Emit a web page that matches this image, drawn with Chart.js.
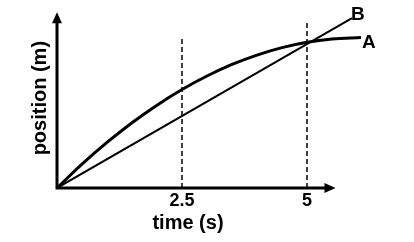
<!DOCTYPE html>
<html>
<head>
<meta charset="utf-8">
<script src="https://cdn.jsdelivr.net/npm/chart.js@4"></script>
<style>
  html, body { margin: 0; padding: 0; background: #fff; }
  #wrap { width: 414px; height: 242px; }
</style>
</head>
<body>
<div id="wrap"><canvas id="chart" width="414" height="242"></canvas></div>
<script>
// curve A (decelerating), time in s, position in m
const timeA = [0, 0.5, 1, 1.5, 2, 2.5, 3, 3.5, 4, 4.5, 5, 5.5, 6.08];
const posA = [0, 1.63, 3.11, 4.46, 5.66, 6.73, 7.65, 8.44, 9.08, 9.59, 9.96, 10.18, 10.28];
// line B (constant speed)
const timeB = [0, 5.9];
const posB = [0, 11.6];
// dashed guides at the tick times
const guideTimes = [2.5, 5];
const guideTops = [10.35, 11.3];
const xTicks = [2.5, 5];
const xTickLabels = ["2.5", "5"];
const seriesLabels = ["A", "B"];
const xAxisEnd = 5.57;
const yAxisEnd = 12;

const FONT = '"Liberation Sans", Arial, sans-serif';

function pts(xs, ys) {
  return xs.map((x, i) => ({ x, y: ys[i] }));
}

const guideSets = guideTimes.map((t, i) => ({
  data: pts([t, t], [0, guideTops[i]]),
  borderColor: "#000",
  borderWidth: 1.5,
  borderDash: [5, 3],
  pointRadius: 0,
  fill: false,
}));

const axesPlugin = {
  id: "axes",
  afterDatasetsDraw(chart) {
    const { ctx, scales } = chart;
    const x = scales.x, y = scales.y;
    const x0 = x.getPixelForValue(0), y0 = y.getPixelForValue(0);
    const xe = x.getPixelForValue(xAxisEnd), ye = y.getPixelForValue(yAxisEnd);
    ctx.save();
    ctx.strokeStyle = "#000";
    ctx.fillStyle = "#000";
    ctx.lineWidth = 3;
    ctx.lineCap = "butt";
    ctx.beginPath();
    ctx.moveTo(x0, y0 + 1.5);
    ctx.lineTo(x0, ye + 8);
    ctx.moveTo(x0 - 1.5, y0);
    ctx.lineTo(xe - 8, y0);
    ctx.stroke();
    // arrow heads
    ctx.beginPath();
    ctx.moveTo(x0, ye);
    ctx.lineTo(x0 - 5, ye + 11);
    ctx.lineTo(x0 + 5, ye + 11);
    ctx.closePath();
    ctx.fill();
    ctx.beginPath();
    ctx.moveTo(xe, y0);
    ctx.lineTo(xe - 11, y0 - 5);
    ctx.lineTo(xe - 11, y0 + 5);
    ctx.closePath();
    ctx.fill();

    // tick labels
    ctx.font = "bold 18px " + FONT;
    ctx.textAlign = "center";
    ctx.textBaseline = "middle";
    xTicks.forEach((t, i) => {
      ctx.fillText(xTickLabels[i], x.getPixelForValue(t), y0 + 13);
    });

    // axis titles
    ctx.font = "bold 20px " + FONT;
    ctx.fillText("time (s)", x.getPixelForValue(2.62), y0 + 35);
    ctx.save();
    ctx.translate(x0 - 17, (y0 + ye) / 2 - 2);
    ctx.rotate(-Math.PI / 2);
    ctx.fillText("position (m)", 0, 0);
    ctx.restore();

    // series labels at line ends
    ctx.font = "bold 19px " + FONT;
    ctx.textAlign = "left";
    const aEnd = timeA.length - 1, bEnd = timeB.length - 1;
    ctx.fillText(seriesLabels[0], x.getPixelForValue(timeA[aEnd]) + 1, y.getPixelForValue(posA[aEnd]) + 5);
    ctx.fillText(seriesLabels[1], x.getPixelForValue(timeB[bEnd]) - 1, y.getPixelForValue(posB[bEnd]) - 3);
    ctx.restore();
  },
};

new Chart(document.getElementById("chart").getContext("2d"), {
  type: "line",
  data: {
    datasets: [
      {
        label: seriesLabels[0],
        data: pts(timeA, posA),
        borderColor: "#000",
        borderWidth: 3,
        cubicInterpolationMode: "monotone",
        pointRadius: 0,
        fill: false,
      },
      {
        label: seriesLabels[1],
        data: pts(timeB, posB),
        borderColor: "#000",
        borderWidth: 2,
        pointRadius: 0,
        fill: false,
      },
      ...guideSets,
    ],
  },
  options: {
    responsive: false,
    animation: false,
    events: [],
    layout: { padding: { left: 57, right: 7, top: 5, bottom: 54 } },
    plugins: { legend: { display: false }, tooltip: { enabled: false } },
    scales: {
      x: { type: "linear", min: 0, max: 7, display: false },
      y: { type: "linear", min: 0, max: 12.5, display: false },
    },
  },
  plugins: [axesPlugin],
});
</script>
</body>
</html>
